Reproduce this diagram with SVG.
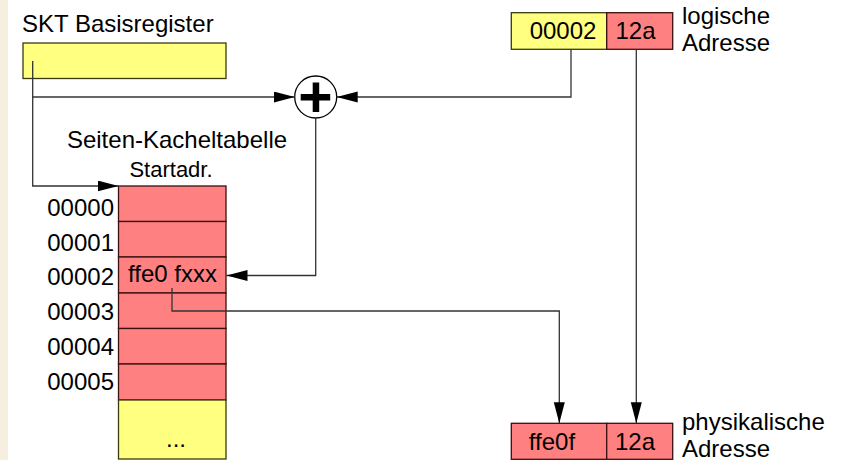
<svg xmlns="http://www.w3.org/2000/svg" width="847" height="460" viewBox="0 0 847 460">
<defs>
<marker id="ah" markerUnits="userSpaceOnUse" markerWidth="22" markerHeight="12" refX="21" refY="5.5" orient="auto">
<path d="M0,0 L21,5.5 L0,11 z" fill="#000"/>
</marker>
<style>
text{font-family:"Liberation Sans",Arial,sans-serif;font-size:24px;fill:#000}
.y{fill:#ffff80;stroke:#3a3a10;stroke-width:1.3}
.r{fill:#ff8080;stroke:#3a1010;stroke-width:1.3}
.c{fill:none;stroke:#333;stroke-width:1.3}
.ca{fill:none;stroke:#333;stroke-width:1.3;marker-end:url(#ah)}
.lb{text-anchor:end}
.m{text-anchor:middle}
</style>
</defs>
<rect x="0" y="0" width="847" height="460" fill="#fff"/>
<rect x="0" y="0" width="8" height="460" fill="#f6efdf"/>

<g id="basisregister">
<text x="22" y="32">SKT Basisregister</text>
<rect class="y" x="23" y="43" width="203" height="35.5"/>
</g>

<g id="addierer">
<circle cx="315.7" cy="97" r="21" fill="#fff" stroke="#000" stroke-width="1.3"/>
<rect x="300.7" y="94" width="29.5" height="6.5" fill="#000"/>
<rect x="312.7" y="82.5" width="6.5" height="29.5" fill="#000"/>
</g>

<g id="tabelle">
<text class="m" x="177" y="148">Seiten-Kacheltabelle</text>
<text class="m" x="171" y="176.5" style="font-size:22px">Startadr.</text>
<rect class="r" x="118.5" y="186" width="107.5" height="35.5"/>
<rect class="r" x="118.5" y="221.5" width="107.5" height="35.5"/>
<rect class="r" x="118.5" y="257" width="107.5" height="36"/>
<rect class="r" x="118.5" y="293" width="107.5" height="35.5"/>
<rect class="r" x="118.5" y="328.5" width="107.5" height="35.5"/>
<rect class="r" x="118.5" y="364" width="107.5" height="36"/>
<rect class="y" x="118.5" y="400" width="107.5" height="59"/>
<text x="128" y="282">ffe0 fxxx</text>
<text class="m" x="176" y="446.5">...</text>
<text class="lb" x="114" y="215.5">00000</text>
<text class="lb" x="114" y="250.5">00001</text>
<text class="lb" x="114" y="284.5">00002</text>
<text class="lb" x="114" y="320">00003</text>
<text class="lb" x="114" y="355">00004</text>
<text class="lb" x="114" y="389.5">00005</text>
</g>

<g id="logische-adresse">
<rect class="y" x="511.3" y="12.7" width="95.4" height="36.6"/>
<rect class="r" x="606.7" y="12.7" width="66" height="36.6"/>
<text class="m" x="563" y="39.3">00002</text>
<text class="m" x="635.5" y="39.3">12a</text>
<text x="682" y="24">logische</text>
<text x="682" y="50.5">Adresse</text>
</g>

<g id="physikalische-adresse">
<rect class="r" x="511.3" y="423.3" width="95.4" height="36"/>
<rect class="r" x="606.7" y="423.3" width="66" height="36"/>
<text class="m" x="552" y="450">ffe0f</text>
<text class="m" x="635" y="450">12a</text>
<text x="682" y="430">physikalische</text>
<text x="682" y="456.5">Adresse</text>
</g>

<g id="connectors">
<path class="ca" d="M32.7,61 V186 H118.5"/>
<path class="ca" d="M32.7,97 H294.7"/>
<path class="ca" d="M571,49.3 V97 H336.7"/>
<path class="ca" d="M315.7,118 V275.5 H226.5"/>
<path class="ca" d="M172,288 V311 H559.3 V423.3"/>
<path class="ca" d="M636.3,49.3 V423.3"/>
</g>
</svg>
